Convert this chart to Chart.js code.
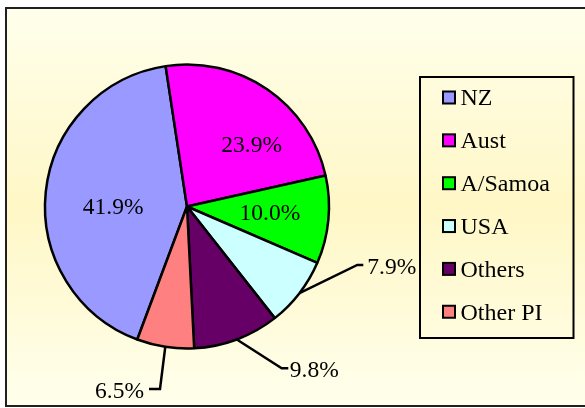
<!DOCTYPE html>
<html><head><meta charset="utf-8">
<script src="https://cdn.jsdelivr.net/npm/chart.js@4"></script>
<style>html,body{margin:0;padding:0;background:#fff;overflow:hidden}canvas{display:block}</style>
</head><body>
<canvas id="c" width="585" height="408"></canvas>
<script>
const categories = ['NZ', 'Aust', 'A/Samoa', 'USA', 'Others', 'Other PI'];
const shares = [41.9, 23.9, 10.0, 7.9, 9.8, 6.5];
const sliceColors = ['#9999FF', '#FF00FF', '#00FF00', '#CCFFFF', '#660066', '#FF8080'];
const valueLabels = shares.map(v => v.toFixed(1) + '%');

const FONT = "23.5px 'Liberation Serif', 'Times New Roman', serif";
const LEGEND_FONT = "24px 'Liberation Serif', 'Times New Roman', serif";

// text placement of the value labels (relative to each slice)
const labelPlacement = [
  {inside: true, shift: -5.9, rf: 0.52},
  {inside: true, shift: 11.6, rf: 0.634},
  {inside: true, shift: -1.6, rf: 0.585},
  {inside: false, elbow: [170.3, 58.5], tail: 6, gap: 4},
  {inside: false, elbow: [94.7, 161.8], tail: 6.6, gap: 1.5},
  {inside: false, elbow: [-27, 182.5], tail: -11, gap: 5}
];

const frame = {
  id: 'frame',
  beforeDraw(chart) {
    const ctx = chart.ctx;
    ctx.save();
    ctx.fillStyle = '#ffffff';
    ctx.fillRect(0, 0, chart.width, chart.height);
    const g = ctx.createLinearGradient(0, 8, 0, 406);
    g.addColorStop(0, '#FFFFEC');
    g.addColorStop(0.5, '#FFF7C6');
    g.addColorStop(1, '#FFFFEC');
    ctx.fillStyle = g;
    ctx.fillRect(6, 8, chart.width, 398);
    ctx.strokeStyle = '#202020';
    ctx.lineWidth = 2;
    ctx.strokeRect(6, 8, chart.width + 10, 398);
    ctx.restore();
  }
};

const labelsAndLegend = {
  id: 'labelsAndLegend',
  afterDraw(chart) {
    const ctx = chart.ctx;
    const meta = chart.getDatasetMeta(0);
    ctx.save();
    ctx.font = FONT;
    ctx.fillStyle = '#000';
    ctx.strokeStyle = '#000';
    ctx.lineWidth = 2.5;
    ctx.textBaseline = 'alphabetic';
    meta.data.forEach((arc, i) => {
      const p = arc.getProps(['x', 'y', 'startAngle', 'endAngle', 'outerRadius'], true);
      const mid = (p.startAngle + p.endAngle) / 2;
      const pl = labelPlacement[i];
      if (pl.inside) {
        const a = mid + pl.shift * Math.PI / 180;
        const r = p.outerRadius * pl.rf;
        ctx.textAlign = 'center';
        ctx.fillText(valueLabels[i], p.x + Math.cos(a) * r, p.y + Math.sin(a) * r + 7.9);
      } else {
        const sx = p.x + Math.cos(mid) * p.outerRadius;
        const sy = p.y + Math.sin(mid) * p.outerRadius;
        const ex = p.x + pl.elbow[0], ey = p.y + pl.elbow[1];
        const tx = ex + pl.tail;
        ctx.beginPath();
        ctx.moveTo(sx, sy);
        ctx.lineTo(ex, ey);
        ctx.lineTo(tx, ey);
        ctx.stroke();
        if (pl.tail > 0) {
          ctx.textAlign = 'left';
          ctx.fillText(valueLabels[i], tx + pl.gap, ey + 8.5);
        } else {
          ctx.textAlign = 'right';
          ctx.fillText(valueLabels[i], tx - pl.gap, ey + 8.5);
        }
      }
    });

    // legend
    ctx.font = LEGEND_FONT;
    ctx.lineWidth = 2;
    ctx.strokeStyle = '#000';
    ctx.strokeRect(420, 77, 153.5, 261);
    ctx.textAlign = 'left';
    categories.forEach((name, i) => {
      const cy = 97.5 + i * 42.85;
      ctx.fillStyle = sliceColors[i];
      ctx.fillRect(443, cy - 6, 12, 12);
      ctx.strokeStyle = '#000';
      ctx.strokeRect(443, cy - 6, 12, 12);
      ctx.fillStyle = '#000';
      ctx.fillText(name, 460.5, cy + 7.8);
    });
    ctx.restore();
  }
};

new Chart(document.getElementById('c'), {
  type: 'pie',
  data: {
    labels: categories,
    datasets: [{
      data: shares,
      backgroundColor: sliceColors,
      borderColor: '#000',
      borderWidth: 2.5,
      radius: 142,
      rotation: -159.5
    }]
  },
  options: {
    responsive: false,
    animation: false,
    events: [],
    rotation: -159.5,
    layout: {padding: {left: 40, right: 251, top: 60, bottom: 55}},
    plugins: {legend: {display: false}, tooltip: {enabled: false}}
  },
  plugins: [frame, labelsAndLegend]
});
</script>
</body></html>
